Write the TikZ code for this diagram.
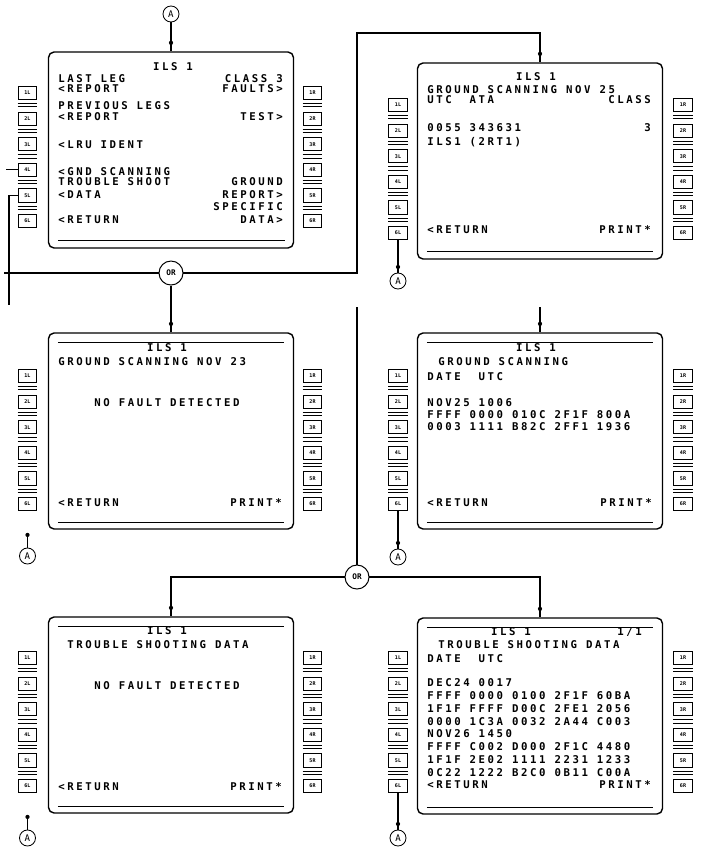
\documentclass[tikz,border=0pt]{standalone}
\usepackage{fontspec}
\usetikzlibrary{calc,decorations.markings}
\newfontfamily\mcdufont[LetterSpace=24]{DejaVu Sans Mono}
\newfontfamily\keyfont{DejaVu Sans Mono}
% line select keys beside a screen: #1 screen, #2 x, #3 y of first key, #4 side
\newcommand{\keycol}[4]{\foreach \k in {1,...,6}{\node[lsk] (#1-\k#4) at (#2,{#3+25.6*(\k-1)}) {\k#4};
  \ifnum\k<6 \draw[lskline] ([yshift=-2.6pt]#1-\k#4.south west) -- ([yshift=-2.6pt]#1-\k#4.south east);
  \draw[lskline] ([yshift=-4.8pt]#1-\k#4.south west) -- ([yshift=-4.8pt]#1-\k#4.south east);\fi}}
\begin{document}
\begin{tikzpicture}[x=0.025cm,y=-0.025cm,
  screen/.style={draw,line width=1pt,rounded corners=4pt,minimum width=6.125cm,minimum height=4.9cm,inner sep=0pt},
  rule/.style={line width=0.9pt},
  lsk/.style={draw,line width=0.6pt,minimum width=0.47cm,minimum height=0.33cm,inner sep=0pt,font=\keyfont\bfseries\fontsize{3.6pt}{4pt}\selectfont},
  lskline/.style={line width=0.6pt},
  txt/.style={font=\mcdufont\bfseries\fontsize{7.6pt}{8pt}\selectfont,inner sep=0pt,text height=5.5pt,text depth=0pt},
  link/.style={line width=0.8pt},
  tapdot/.style={postaction={decorate,decoration={markings,mark=at position -#1 with {\fill (0,0) circle (1.5pt);}}}},
  tapdot/.default=6pt,
  acirc/.style={draw,circle,line width=0.6pt,minimum size=0.4cm,inner sep=0pt,font=\keyfont\fontsize{6.5pt}{7pt}\selectfont},
  orcirc/.style={draw,circle,line width=0.7pt,minimum size=0.6cm,inner sep=0pt,font=\keyfont\bfseries\fontsize{5.5pt}{6pt}\selectfont}]
\useasboundingbox (0,0) rectangle (708,851);
% screens
\node[screen] (s1) at (171,150) {};
\node[screen] (s2) at (540,161) {};
\node[screen] (s3) at (171,431) {};
\node[screen] (s4) at (540,431) {};
\node[screen] (s5) at (171,715) {};
\node[screen] (s6) at (540,716) {};
\draw[rule] ($(s1.south west)+(10,-8)$) -- ($(s1.south east)+(-9,-8)$);
\draw[rule] ($(s2.south west)+(10,-8)$) -- ($(s2.south east)+(-10,-8)$);
\foreach \s in {s3,s4,s5,s6}{\draw[rule] ($(\s.north west)+(10,10)$) -- ($(\s.north east)+(-10,10)$);
  \draw[rule] ($(\s.south west)+(10,-7)$) -- ($(\s.south east)+(-10,-7)$);}
% keys
\keycol{s1}{27.5}{93}{L} \keycol{s1}{312.5}{93}{R}
\keycol{s2}{398}{105}{L} \keycol{s2}{683}{105}{R}
\keycol{s3}{27.5}{376}{L} \keycol{s3}{312.5}{376}{R}
\keycol{s4}{398}{376}{L} \keycol{s4}{683}{376}{R}
\keycol{s5}{27.5}{658}{L} \keycol{s5}{312.5}{658}{R}
\keycol{s6}{398}{658}{L} \keycol{s6}{683}{658}{R}
% screen 1
\node[txt] (s1t) at (173,67) {ILS 1};
\foreach \yy/\row [count=\i] in {79/LAST LEG,89/<REPORT,106/PREVIOUS LEGS,117/<REPORT,145/<LRU IDENT,172/<GND SCANNING,182/TROUBLE SHOOT,195/<DATA,220/<RETURN}{\node[txt,anchor=west] (s1l\i) at (58,\yy) {\row};}
\foreach \yy/\row [count=\i] in {79/CLASS 3,89/FAULTS>,117/TEST>,182/GROUND,195/REPORT>,207/SPECIFIC,220/DATA>}{\node[txt,anchor=east] (s1r\i) at (283,\yy) {\row};}
% screen 2
\node[txt] (s2t) at (536,77) {ILS 1};
\foreach \yy/\row [count=\i] in {90/GROUND SCANNING NOV 25,100/UTC\ \ ATA,128/0055 343631,142/ILS1 (2RT1),230/<RETURN}{\node[txt,anchor=west] (s2l\i) at (427,\yy) {\row};}
\foreach \yy/\row [count=\i] in {100/CLASS,128/3,230/PRINT*}{\node[txt,anchor=east] (s2r\i) at (651,\yy) {\row};}
% screen 3
\node[txt] (s3t) at (167,348) {ILS 1};
\node[txt,anchor=west] (s3l1) at (58,362) {GROUND SCANNING NOV 23};
\node[txt] (s3m) at (167,403) {NO FAULT DETECTED};
\node[txt,anchor=west] (s3l2) at (58,503) {<RETURN};
\node[txt,anchor=east] (s3r1) at (282,503) {PRINT*};
% screen 4
\node[txt] (s4t) at (536,348) {ILS 1};
\node[txt,anchor=west] (s4h) at (438,362) {GROUND SCANNING};
\foreach \yy/\row [count=\i] in {377/DATE\ \ UTC,403/NOV25 1006,415/FFFF 0000 010C 2F1F 800A,427/0003 1111 B82C 2FF1 1936,503/<RETURN}{\node[txt,anchor=west] (s4l\i) at (427,\yy) {\row};}
\node[txt,anchor=east] (s4r1) at (652,503) {PRINT*};
% screen 5
\node[txt] (s5t) at (167,631) {ILS 1};
\node[txt,anchor=west] (s5l1) at (67,645) {TROUBLE SHOOTING DATA};
\node[txt] (s5m) at (167,686) {NO FAULT DETECTED};
\node[txt,anchor=west] (s5l2) at (58,787) {<RETURN};
\node[txt,anchor=east] (s5r1) at (282,787) {PRINT*};
% screen 6
\node[txt] (s6t) at (511,632) {ILS 1};
\node[txt,anchor=east] (s6p) at (642,632) {1/1};
\node[txt,anchor=west] (s6h) at (438,645) {TROUBLE SHOOTING DATA};
\node[txt,anchor=west] (s6d) at (427,659) {DATE\ \ UTC};
\foreach \row [count=\i] in {DEC24 0017,FFFF 0000 0100 2F1F 60BA,1F1F FFFF D00C 2FE1 2056,0000 1C3A 0032 2A44 C003,NOV26 1450,FFFF C002 D000 2F1C 4480,1F1F 2E02 1111 2231 1233,0C22 1222 B2C0 0B11 C00A,<RETURN}{\node[txt,anchor=west] (s6l\i) at (427,{683+12.75*(\i-1)}) {\row};}
\node[txt,anchor=east] (s6r1) at (651,785) {PRINT*};
% connectors
\node[acirc] (a0) at (171,14) {A};
\node[orcirc] (or1) at (171,273) {OR};
\node[orcirc] (or2) at (357,577) {OR};
\node[acirc] (a2) at (398,281) {A};
\node[acirc] (a3) at (27.5,556) {A};
\node[acirc] (a4) at (398,557) {A};
\node[acirc] (a5) at (27.5,838) {A};
\node[acirc] (a6) at (398,838) {A};
\coordinate (g4) at ($(s1-4L.west)+(-12,0)$);
\coordinate (t5) at (9,305);
\coordinate (h0) at (4,273);
\coordinate (j1) at (357,273);
\coordinate (j2) at (357,33);
\coordinate (v0) at (357,307);
\coordinate (v4) at (540,307);
\coordinate (st3) at (27.5,534);
\coordinate (st5) at (27.5,815);
\draw[link,tapdot] (a0) -- (s1.north);
\draw[link] (s1-4L.west) -- (g4);
\draw[link] (s1-5L.west) -| (t5);
\draw[link] (h0) -- (or1);
\draw[link,tapdot] (or1) -- (j1) -- (j2) -| (s2.north);
\draw[link,tapdot] (or1) -- (s3.north);
\draw[link,tapdot] (v4) -- (s4.north);
\draw[link] (v0) -- (or2);
\draw[link,tapdot] (or2) -| (s5.north);
\draw[link,tapdot] (or2) -| (s6.north);
\draw[link,tapdot=4pt] (s2-6L) -- (a2);
\draw[link,tapdot=4pt] (s4-6L) -- (a4);
\draw[link,tapdot=4pt] (s6-6L) -- (a6);
\draw[link,tapdot=9pt] (st3) -- (a3);
\draw[link,tapdot=9pt] (st5) -- (a5);
\end{tikzpicture}
\end{document}
